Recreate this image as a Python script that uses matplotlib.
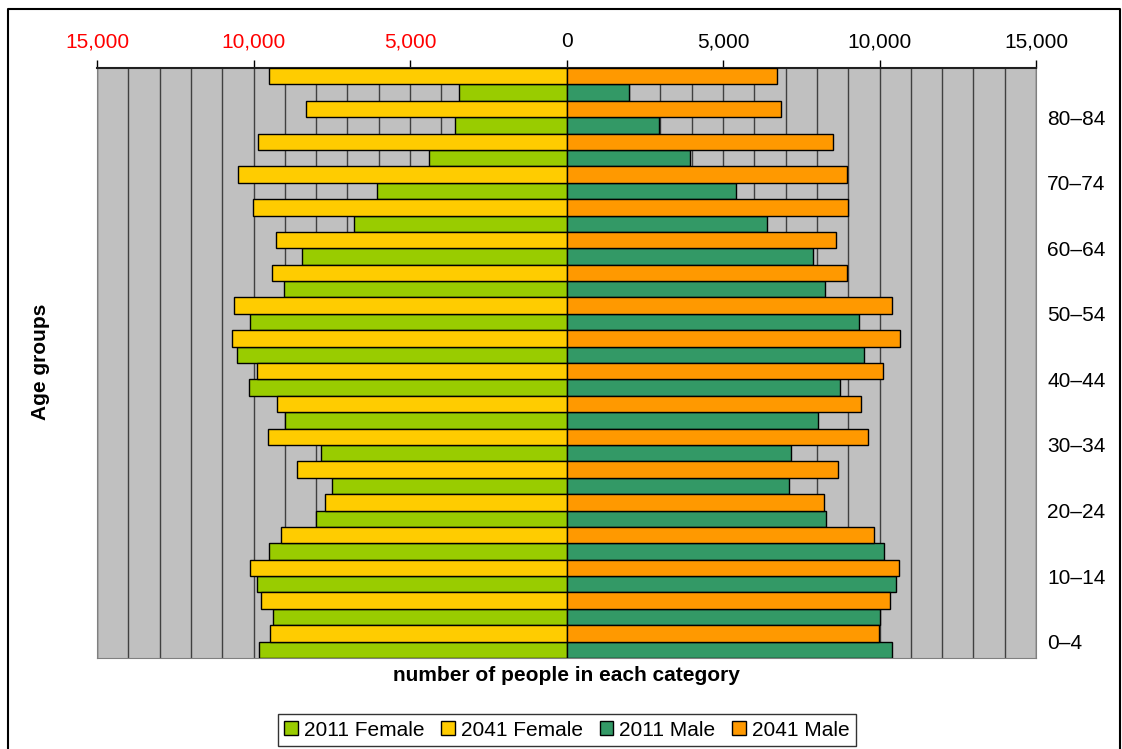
import matplotlib.pyplot as plt
from matplotlib.lines import Line2D
from matplotlib.patches import Patch
import numpy as np

plt.rcParams['font.family'] = ['Liberation Sans', 'DejaVu Sans']

# age groups, youngest first (0-4 at the bottom)
age_groups = ['0–4', '5–9', '10–14', '15–19', '20–24', '25–29', '30–34', '35–39',
              '40–44', '45–49', '50–54', '55–59', '60–64', '65–69', '70–74',
              '75–79', '80–84', '85+']

female_2011 = [9840, 9370, 9880, 9500, 8010, 7500, 7840, 8990, 10140, 10520,
               10100, 9030, 8440, 6790, 6050, 4390, 3570, 3420]
female_2041 = [9460, 9760, 10100, 9120, 7710, 8610, 9540, 9250, 9880, 10690,
               10610, 9420, 9290, 10010, 10480, 9870, 8310, 9500]
male_2011 = [10400, 10010, 10530, 10140, 8300, 7110, 7160, 8050, 8740, 9500,
             9330, 8270, 7880, 6390, 5420, 3940, 2950, 2010]
male_2041 = [9970, 10350, 10610, 9840, 8220, 8690, 9630, 9420, 10100, 10650,
             10400, 8950, 8610, 8990, 8950, 8520, 6860, 6730]

xticks = [-15000, -10000, -5000, 0, 5000, 10000, 15000]

c_f11 = '#99CC00'
c_f41 = '#FFCC00'
c_m11 = '#339966'
c_m41 = '#FF9900'

fig = plt.figure(figsize=(11.22, 7.49), dpi=100)
ax = fig.add_axes([97 / 1122, 1 - 658 / 749, 939 / 1122, 590 / 749])
ax.set_facecolor('#C0C0C0')

y = np.arange(len(age_groups))
h = 0.5
ax.barh(y - 0.25, -np.array(female_2011), height=h, color=c_f11, edgecolor='black', lw=1, zorder=3)
ax.barh(y + 0.25, -np.array(female_2041), height=h, color=c_f41, edgecolor='black', lw=1, zorder=3)
ax.barh(y - 0.25, male_2011, height=h, color=c_m11, edgecolor='black', lw=1, zorder=3)
ax.barh(y + 0.25, male_2041, height=h, color=c_m41, edgecolor='black', lw=1, zorder=3)

# vertical grid every 1,000
for gx in range(-15000, 15001, 1000):
    ax.axvline(gx, color='#404040', lw=1, zorder=1)

ax.set_xlim(-15000, 15000)
ax.set_ylim(-0.5, len(age_groups) - 0.5)

ax.xaxis.tick_top()
ax.set_xticks(xticks)
ax.set_xticklabels([f'{abs(v):,}' for v in xticks], fontsize=15)
for lab, v in zip(ax.get_xticklabels(), xticks):
    lab.set_color('red' if v < 0 else 'black')
ax.tick_params(axis='x', length=6, width=1, color='black', pad=6)

ax.yaxis.tick_right()
ax.set_yticks(y[::2])
ax.set_yticklabels(age_groups[::2], fontsize=15)
ax.tick_params(axis='y', length=0, pad=8)

for side in ['left', 'right', 'bottom']:
    ax.spines[side].set_color('#808080')
ax.spines['top'].set_color('#202020')
ax.spines['top'].set_linewidth(1.5)

ax.set_xlabel('number of people in each category', fontsize=15, fontweight='bold', labelpad=6)
fig.text(40 / 1122, 1 - 362 / 749, 'Age groups', rotation=90, fontsize=15,
         fontweight='bold', ha='center', va='center')

handles = [Patch(facecolor=c, edgecolor='black', lw=1) for c in (c_f11, c_f41, c_m11, c_m41)]
fig.legend(handles, ['2011 Female', '2041 Female', '2011 Male', '2041 Male'],
           loc='center', bbox_to_anchor=(567 / 1122, 1 - 730 / 749), ncol=4,
           fontsize=15, frameon=True, fancybox=False, edgecolor='black',
           handlelength=0.65, handleheight=0.65, handletextpad=0.3, columnspacing=0.8,
           borderpad=0.3)

# outer frame
x0, x1, y0 = 8 / 1122, 1120 / 1122, 1 - 9 / 749
fig.add_artist(Line2D([x0, x0, x1, x1], [0, y0, y0, 0], color='black', lw=1.5,
                      transform=fig.transFigure))

fig.savefig('out.png', dpi=100)
